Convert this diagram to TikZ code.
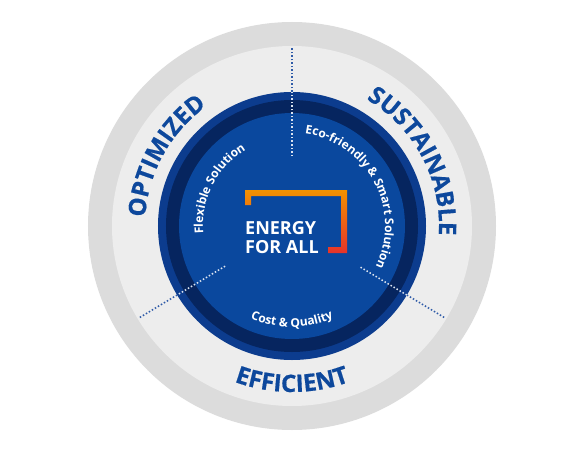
\documentclass[tikz,border=0pt]{standalone}
\usepackage{fontspec}
\setmainfont{Open Sans}
\newfontfamily\heavyfont{Open Sans}[BoldFeatures={FakeBold=0.6}]
\usetikzlibrary{decorations.text}

\definecolor{ringgray}{HTML}{DCDCDC}
\definecolor{ringlight}{HTML}{EDEDED}
\definecolor{blueouter}{HTML}{0C3C8E}
\definecolor{bluedark}{HTML}{06255F}
\definecolor{blueinner}{HTML}{0A489E}
\definecolor{textblue}{HTML}{0D489C}
\definecolor{dotblue}{HTML}{2F5BA8}
\definecolor{bracketorange}{HTML}{F39200}
\definecolor{bracketred}{HTML}{E6332A}

\begin{document}
\begin{tikzpicture}[x=1pt, y=1pt,
        bigarc/.style={decorate, decoration={text along path, text align=center,
            text color=textblue, text={|\heavyfont\fontsize{24}{24}\selectfont\bfseries|#1}}},
        smallarc/.style={decorate, decoration={text along path, text align=center,
            text color=white, text={|\fontsize{12}{12}\selectfont\bfseries|#1}}},
        dots/.style={line width=1.5pt, dash pattern=on 1.5pt off 2pt}]
    \useasboundingbox (-292,-237) rectangle (288,226);

    % rings
    \fill[ringgray] (0,0) circle (204);
    \fill[ringlight] (0,0) circle (180);
    \fill[blueouter] (0,0) circle (134);
    \fill[bluedark] (0,0) circle (126);
    \fill[blueinner] (0,0) circle (113);

    % dotted separators
    \foreach \a/\r in {90/70, 211/78, 329/80} {
        \draw[dots, dotblue] (\a:134) -- (\a:179);
        \draw[dots, white!85!blueinner] (\a:\r) -- (\a:134);
    }

    % outer labels
    \path[bigarc=OPTIMIZED] (196:147) arc[start angle=196, end angle=106, radius=147];
    \path[bigarc=SUSTAINABLE] (73:147) arc[start angle=73, end angle=-17, radius=147];
    \path[bigarc=EFFICIENT] (-135:166) arc[start angle=-135, end angle=-45, radius=166];

    % inner labels
    \path[smallarc=Flexible Solution] (218:89) arc[start angle=218, end angle=88, radius=89];
    \path[smallarc={Eco-friendly {\&} Smart Solution}] (93:93) arc[start angle=93, end angle=-37, radius=93];
    \path[smallarc={Cost {\&} Quality}] (-150:101) arc[start angle=-150, end angle=-30, radius=101];

    % bracket
    \shade[top color=bracketorange, bottom color=bracketred]
        (-47,21) -- (-47,36) -- (55,36) -- (55,-27) -- (36,-27) -- (36,-21)
        -- (49,-21) -- (49,30) -- (-41,30) -- (-41,21) -- cycle;

    % centre title
    \node[anchor=base west, inner sep=0, text=white, font=\fontsize{18}{18}\selectfont\bfseries] (energy) at (-47,-8) {ENERGY};
    \node[anchor=base west, inner sep=0, text=white, font=\fontsize{18}{18}\selectfont\bfseries] (forall) at (-47,-27) {FOR ALL};
\end{tikzpicture}
\end{document}
